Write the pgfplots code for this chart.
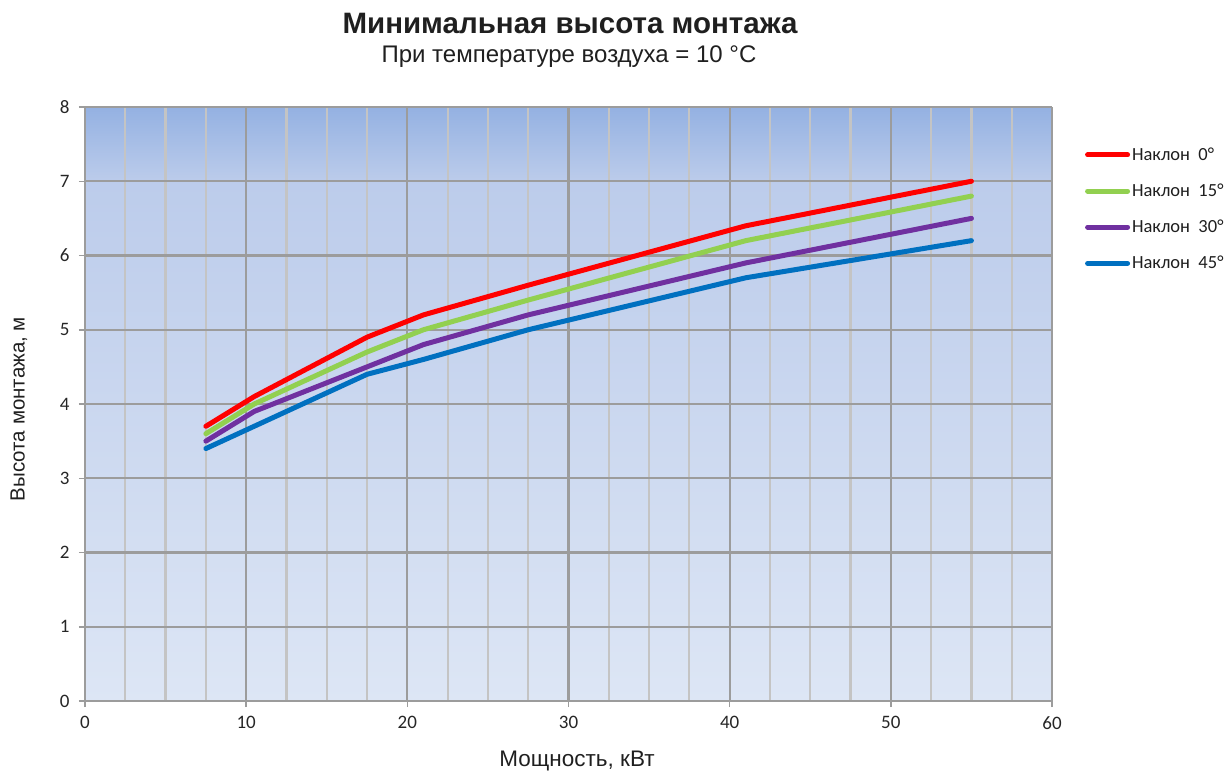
\documentclass[border=0pt]{standalone}
\usepackage{fontspec}
\setmainfont{Liberation Sans}
\newfontfamily\carlito{Carlito}
\usepackage{pgfplots}
\pgfplotsset{compat=1.18}
\usetikzlibrary{calc}
\definecolor{bgtop}{HTML}{94B1E2}
\definecolor{bgmid}{HTML}{BCCCEB}
\definecolor{bgbot}{HTML}{DDE6F5}
\definecolor{majgrid}{HTML}{9C9C9C}
\definecolor{mingrid}{HTML}{C4C4C4}
\definecolor{cred}{HTML}{FF0000}
\definecolor{cgreen}{HTML}{92D050}
\definecolor{cpurple}{HTML}{7030A0}
\definecolor{cblue}{HTML}{0070C0}
\pgfdeclareverticalshading{bgshade}{100bp}{color(0bp)=(bgbot); color(25bp)=(bgbot); color(68.75bp)=(bgmid); color(75bp)=(bgtop); color(100bp)=(bgtop)}
\newcommand{\lf}{\carlito\fontsize{18.5}{18.5}\selectfont}
\begin{document}
\begin{tikzpicture}
\begin{axis}[
  name=ax,
  at={(0pt,0pt)}, anchor=south west,
  scale only axis, width=967pt, height=594pt,
  xmin=0, xmax=60, ymin=0, ymax=8,
  xtick={0,10,...,60}, ytick={0,1,...,8},
  minor xtick={2.5,5,7.5,12.5,15,17.5,22.5,25,27.5,32.5,35,37.5,42.5,45,47.5,52.5,55,57.5},
  grid=both,
  major grid style={majgrid, line width=2.2pt},
  minor grid style={mingrid, line width=2.2pt},
  axis line style={majgrid, line width=2.2pt},
  tick align=outside,
  major tick length=6pt,
  minor tick length=0pt,
  major tick style={majgrid, line width=1.5pt},
  axis x line*=bottom, axis y line*=left,
  axis background/.style={shading=bgshade},
  /pgf/number format/assume math mode=true,
  tick label style={font=\carlito\fontsize{19}{19}\selectfont, text=black!85},
  xticklabel style={yshift=-6pt},
  yticklabel style={xshift=-6pt},
  legend style={at={(1.034,0.935)}, anchor=north west, draw=none, fill=none,
    font=\lf, nodes={font=\lf, text=black!88}, row sep=18pt, inner sep=0pt,
    cells={anchor=west}},
  legend image code/.code={\draw[#1, line width=5pt, line cap=round] (0pt,0pt) -- (40pt,0pt);},
  every axis plot/.append style={line width=5pt, line cap=round, line join=round},
]
\addplot[cred] coordinates {(7.5,3.7) (10.5,4.1) (17.5,4.9) (21,5.2) (27.5,5.6) (41,6.4) (55,7.0)};
\addplot[cgreen] coordinates {(7.5,3.6) (10.5,4.0) (17.5,4.7) (21,5.0) (27.5,5.4) (41,6.2) (55,6.8)};
\addplot[cpurple] coordinates {(7.5,3.5) (10.5,3.9) (17.5,4.5) (21,4.8) (27.5,5.2) (41,5.9) (55,6.5)};
\addplot[cblue] coordinates {(7.5,3.4) (10.5,3.7) (17.5,4.4) (21,4.6) (27.5,5.0) (41,5.7) (55,6.2)};
\legend{{\lf Наклон\ \ 0°}, {\lf Наклон\ \ 15°}, {\lf Наклон\ \ 30°}, {\lf Наклон\ \ 45°}}
\end{axis}
\coordinate (O) at ($(ax.south west)+(-85pt,-71pt)$);
\node[font=\bfseries\fontsize{29.5}{29.5}\selectfont, text=black!88] at ($(O)+(570pt,748pt)$) {Минимальная высота монтажа};
\node[font=\fontsize{24}{24}\selectfont, text=black!88] at ($(O)+(569pt,715pt)$) {При температуре воздуха = 10 °C};
\node[font=\fontsize{22.5}{22.5}\selectfont, text=black!88] at ($(O)+(577pt,11pt)$) {Мощность, кВт};
\node[font=\fontsize{20.5}{20.5}\selectfont, text=black!88, rotate=90] at ($(O)+(19pt,363pt)$) {Высота монтажа, м};
\pgfresetboundingbox
\path[use as bounding box] (O) rectangle ($(O)+(1224pt,772pt)$);
\end{tikzpicture}
\end{document}
